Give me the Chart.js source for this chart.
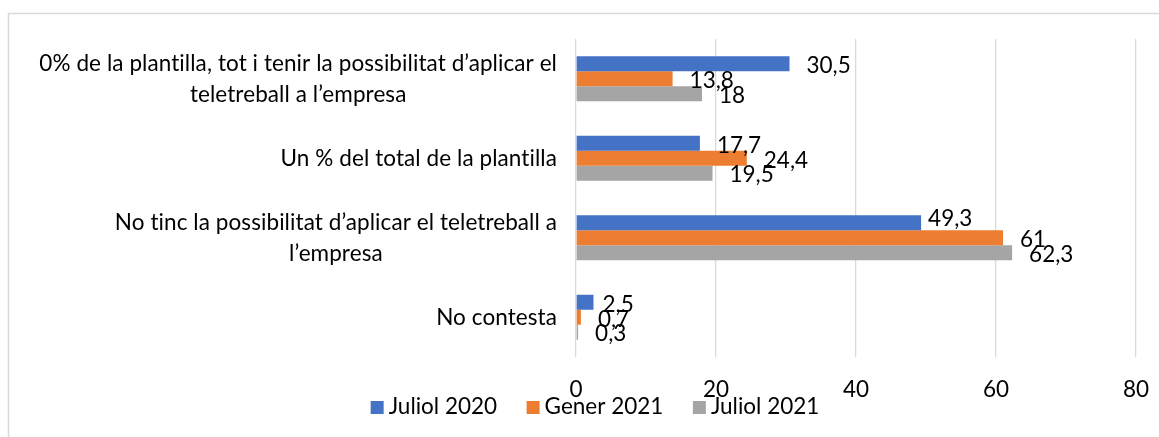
<!DOCTYPE html>
<html><head><meta charset="utf-8">
<script src="https://cdn.jsdelivr.net/npm/chart.js@4.4.0/dist/chart.umd.min.js"></script>
<style>html,body{margin:0;padding:0;background:#fff;overflow:hidden}</style>
</head><body>
<canvas id="c" width="1159" height="437"></canvas>
<script>
const categories = [
  ["0% de la plantilla, tot i tenir la possibilitat d’aplicar el", "teletreball a l’empresa"],
  ["Un % del total de la plantilla"],
  ["No tinc la possibilitat d’aplicar el teletreball a", "l’empresa"],
  ["No contesta"]
];
const seriesNames = ["Juliol 2020", "Gener 2021", "Juliol 2021"];
const juliol2020 = [30.5, 17.7, 49.3, 2.5];
const gener2021 = [13.8, 24.4, 61, 0.7];
const juliol2021 = [18, 19.5, 62.3, 0.3];
const xMin = 0, xMax = 80, xStep = 20;
const colors = ["#4472C4", "#ED7D31", "#A5A5A5"];

const FONT = "Lato, 'Liberation Sans', sans-serif";
const FS = 22.5;
Chart.defaults.font.family = FONT;
Chart.defaults.font.size = FS;
Chart.defaults.color = '#000';

function noLig(ctx) {
  if ('letterSpacing' in ctx) ctx.letterSpacing = '0.08px';
  if ('textRendering' in ctx) ctx.textRendering = 'optimizeSpeed';
}

const frame = {
  id: 'frame',
  beforeDraw(chart) {
    const ctx = chart.ctx;
    ctx.save();
    ctx.fillStyle = '#fff';
    ctx.fillRect(0, 0, chart.width, chart.height);
    ctx.strokeStyle = '#d9d9d9';
    ctx.lineWidth = 1.5;
    ctx.strokeRect(8.5, 13.5, 1300, 600);
    ctx.restore();
  }
};

const catLabels = {
  id: 'catLabels',
  afterDraw(chart) {
    const ctx = chart.ctx, y = chart.scales.y;
    ctx.save();
    ctx.font = FS + 'px ' + FONT;
    noLig(ctx);
    ctx.fillStyle = '#000';
    ctx.textAlign = 'center';
    ctx.textBaseline = 'middle';
    const right = chart.chartArea.left - 19;
    const lh = 31;
    categories.forEach((lines, i) => {
      const cy = y.getPixelForValue(i);
      const w = Math.max(...lines.map(l => ctx.measureText(l).width));
      const cx = right - w / 2;
      lines.forEach((l, k) => {
        ctx.fillText(l, cx, cy + (k - (lines.length - 1) / 2) * lh);
      });
    });
    ctx.restore();
  }
};

const valueLabels = {
  id: 'valueLabels',
  afterDatasetsDraw(chart, args, opts) {
    const ctx = chart.ctx;
    ctx.save();
    ctx.font = FS + 'px ' + FONT;
    ctx.fillStyle = '#000';
    ctx.textAlign = 'left';
    ctx.textBaseline = 'middle';
    const nudge = opts.nudge || {};
    chart.data.datasets.forEach((ds, di) => {
      const meta = chart.getDatasetMeta(di);
      meta.data.forEach((el, i) => {
        const txt = String(ds.data[i]).replace('.', ',');
        const n = nudge[di + '-' + i] || [0, 0];
        ctx.fillText(txt, el.x + 17 + n[0], el.y + 2 + n[1]);
      });
    });
    ctx.restore();
  }
};

const bottomLegend = {
  id: 'bottomLegend',
  afterDraw(chart, args, opts) {
    const ctx = chart.ctx;
    ctx.save();
    ctx.font = FS + 'px ' + FONT;
    ctx.textAlign = 'left';
    ctx.textBaseline = 'middle';
    const box = 13, gapText = 5, gapItem = 29.5;
    const items = chart.data.datasets.map(ds => ({ text: ds.label, color: ds.backgroundColor, w: ctx.measureText(ds.label).width }));
    const total = items.reduce((s, it) => s + box + gapText + it.w, 0) + gapItem * (items.length - 1);
    let x = opts.centerX - total / 2;
    const cy = opts.centerY;
    items.forEach(it => {
      ctx.fillStyle = it.color;
      ctx.fillRect(x, cy - box / 2, box, box);
      ctx.fillStyle = '#000';
      ctx.fillText(it.text, x + box + gapText, cy - 0.5);
      x += box + gapText + it.w + gapItem;
    });
    ctx.restore();
  }
};

new Chart(document.getElementById('c'), {
  type: 'bar',
  data: {
    labels: categories.map(c => c.join(' ')),
    datasets: [
      { label: seriesNames[0], data: juliol2020, backgroundColor: colors[0], borderWidth: 0 },
      { label: seriesNames[1], data: gener2021, backgroundColor: colors[1], borderWidth: 0 },
      { label: seriesNames[2], data: juliol2021, backgroundColor: colors[2], borderWidth: 0 }
    ]
  },
  options: {
    indexAxis: 'y',
    responsive: false,
    animation: false,
    devicePixelRatio: 1,
    datasets: { bar: { barPercentage: 1.0, categoryPercentage: 0.566 } },
    layout: { padding: { top: 39, left: 0, right: 23, bottom: 20 } },
    scales: {
      x: {
        min: xMin, max: xMax,
        ticks: { stepSize: xStep, padding: 19, color: '#000', font: { size: FS } },
        grid: { color: '#d9d9d9', lineWidth: 1.25, drawTicks: false },
        border: { display: false },
        afterFit(scale) { scale.height = 60; scale.paddingLeft = 0; scale.paddingRight = 0; }
      },
      y: {
        ticks: { display: false },
        grid: { display: false },
        border: { display: false },
        afterFit(scale) { scale.width = 576; }
      }
    },
    plugins: {
      legend: { display: false },
      tooltip: { enabled: false },
      valueLabels: { nudge: { '0-2': [-10, -6], '0-3': [-8, 0] } },
      bottomLegend: { centerX: 595, centerY: 407.5 }
    }
  },
  plugins: [frame, valueLabels, catLabels, bottomLegend]
});
</script>
</body></html>
